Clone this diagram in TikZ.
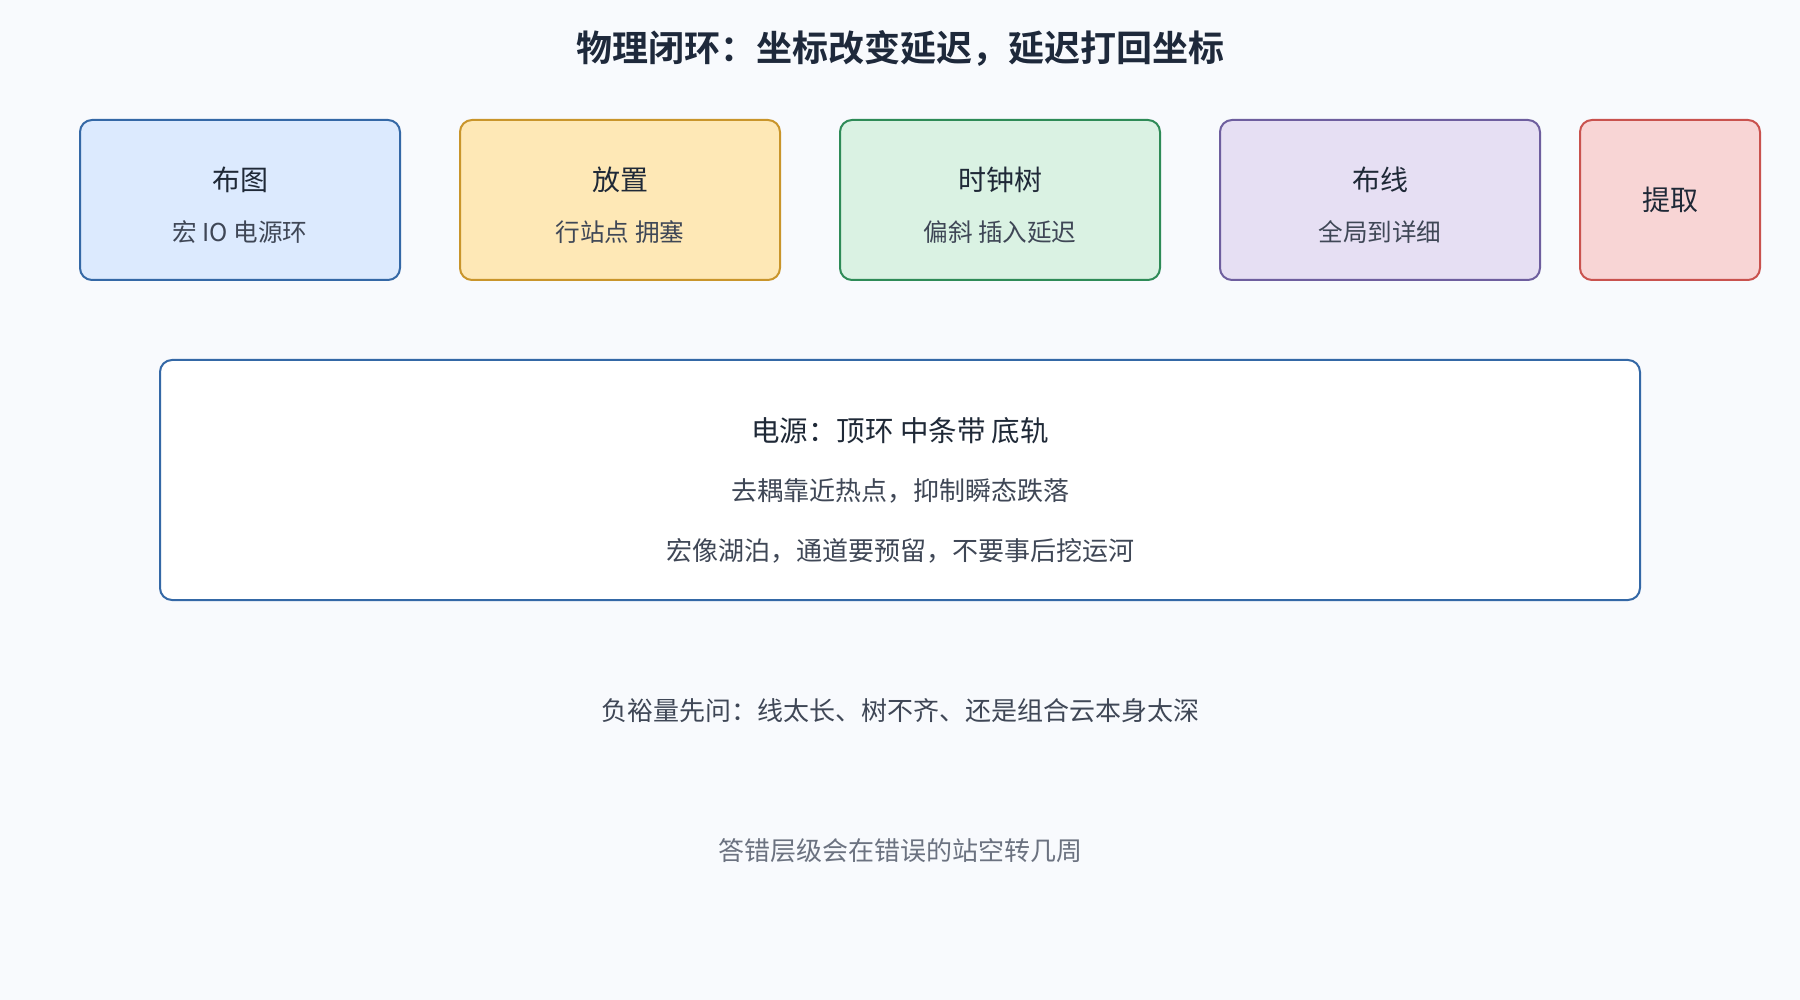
\documentclass[tikz,border=0pt]{standalone}
\usepackage{fontspec}
\setmainfont{Noto Sans CJK SC}
\newfontfamily\cjkbold[BoldFont={* Bold}]{Noto Sans CJK SC}
\definecolor{bgc}{HTML}{F8FAFD}
\definecolor{titlec}{HTML}{1E293B}
\definecolor{darkc}{HTML}{1F2937}
\definecolor{midc}{HTML}{3F4756}
\definecolor{grayc}{HTML}{6B7280}
\definecolor{bluefill}{HTML}{DCEAFE}
\definecolor{blueline}{HTML}{3468A6}
\definecolor{yelfill}{HTML}{FEE8B6}
\definecolor{yelline}{HTML}{C9952B}
\definecolor{grnfill}{HTML}{DAF2E3}
\definecolor{grnline}{HTML}{2E8B57}
\definecolor{purfill}{HTML}{E6DFF3}
\definecolor{purline}{HTML}{6E5E9E}
\definecolor{redfill}{HTML}{F8D5D5}
\definecolor{redline}{HTML}{C9524E}
\tikzset{
  stagebox/.style={draw, line width=2pt, rounded corners=12pt, minimum width=320pt, minimum height=160pt, inner sep=0pt},
  boxtitle/.style={font=\fontsize{28pt}{32pt}\selectfont, text=darkc, inner sep=0pt},
  boxsub/.style={font=\fontsize{24.6pt}{28pt}\selectfont, text=midc, inner sep=0pt},
  bodytext/.style={font=\fontsize{26pt}{30pt}\selectfont, text=midc, inner sep=0pt},
}
\begin{document}
\begin{tikzpicture}[x=1pt,y=-1pt]
\path[fill=bgc] (0,0) rectangle (1800,1000);
\useasboundingbox (0,0) rectangle (1800,1000);
\node[font=\cjkbold\bfseries\fontsize{36pt}{40pt}\selectfont, text=titlec, inner sep=0pt] (title) at (900,48) {物理闭环：坐标改变延迟，延迟打回坐标};
% stage boxes
\node[stagebox, fill=bluefill, draw=blueline] (b1) at (240,200) {};
\node[stagebox, fill=yelfill, draw=yelline] (b2) at (620,200) {};
\node[stagebox, fill=grnfill, draw=grnline] (b3) at (1000,200) {};
\node[stagebox, fill=purfill, draw=purline] (b4) at (1380,200) {};
\node[stagebox, fill=redfill, draw=redline, minimum width=180pt] (b5) at (1670,200) {};
\node[boxtitle] (t1) at (240,180) {布图};
\node[boxsub] (s1) at (240,232) {宏 IO 电源环};
\node[boxtitle] (t2) at (620,180) {放置};
\node[boxsub] (s2) at (620,232) {行站点 拥塞};
\node[boxtitle] (t3) at (1000,180) {时钟树};
\node[boxsub] (s3) at (1000,232) {偏斜 插入延迟};
\node[boxtitle] (t4) at (1380,180) {布线};
\node[boxsub] (s4) at (1380,232) {全局到详细};
\node[boxtitle] (t5) at (1670,200) {提取};
% power box
\node[draw=blueline, fill=white, line width=2pt, rounded corners=12pt, minimum width=1480pt, minimum height=240pt, inner sep=0pt] (pw) at (900,480) {};
\node[boxtitle, font=\fontsize{28.5pt}{32pt}\selectfont] (p1) at (900,431) {电源：顶环 中条带 底轨};
\node[bodytext] (p2) at (900,491) {去耦靠近热点，抑制瞬态跌落};
\node[bodytext] (p3) at (900,551) {宏像湖泊，通道要预留，不要事后挖运河};
% notes
\node[bodytext] (n1) at (900,711) {负裕量先问：线太长、树不齐、还是组合云本身太深};
\node[bodytext, text=grayc] (n2) at (900,851) {答错层级会在错误的站空转几周};
\end{tikzpicture}
\end{document}
